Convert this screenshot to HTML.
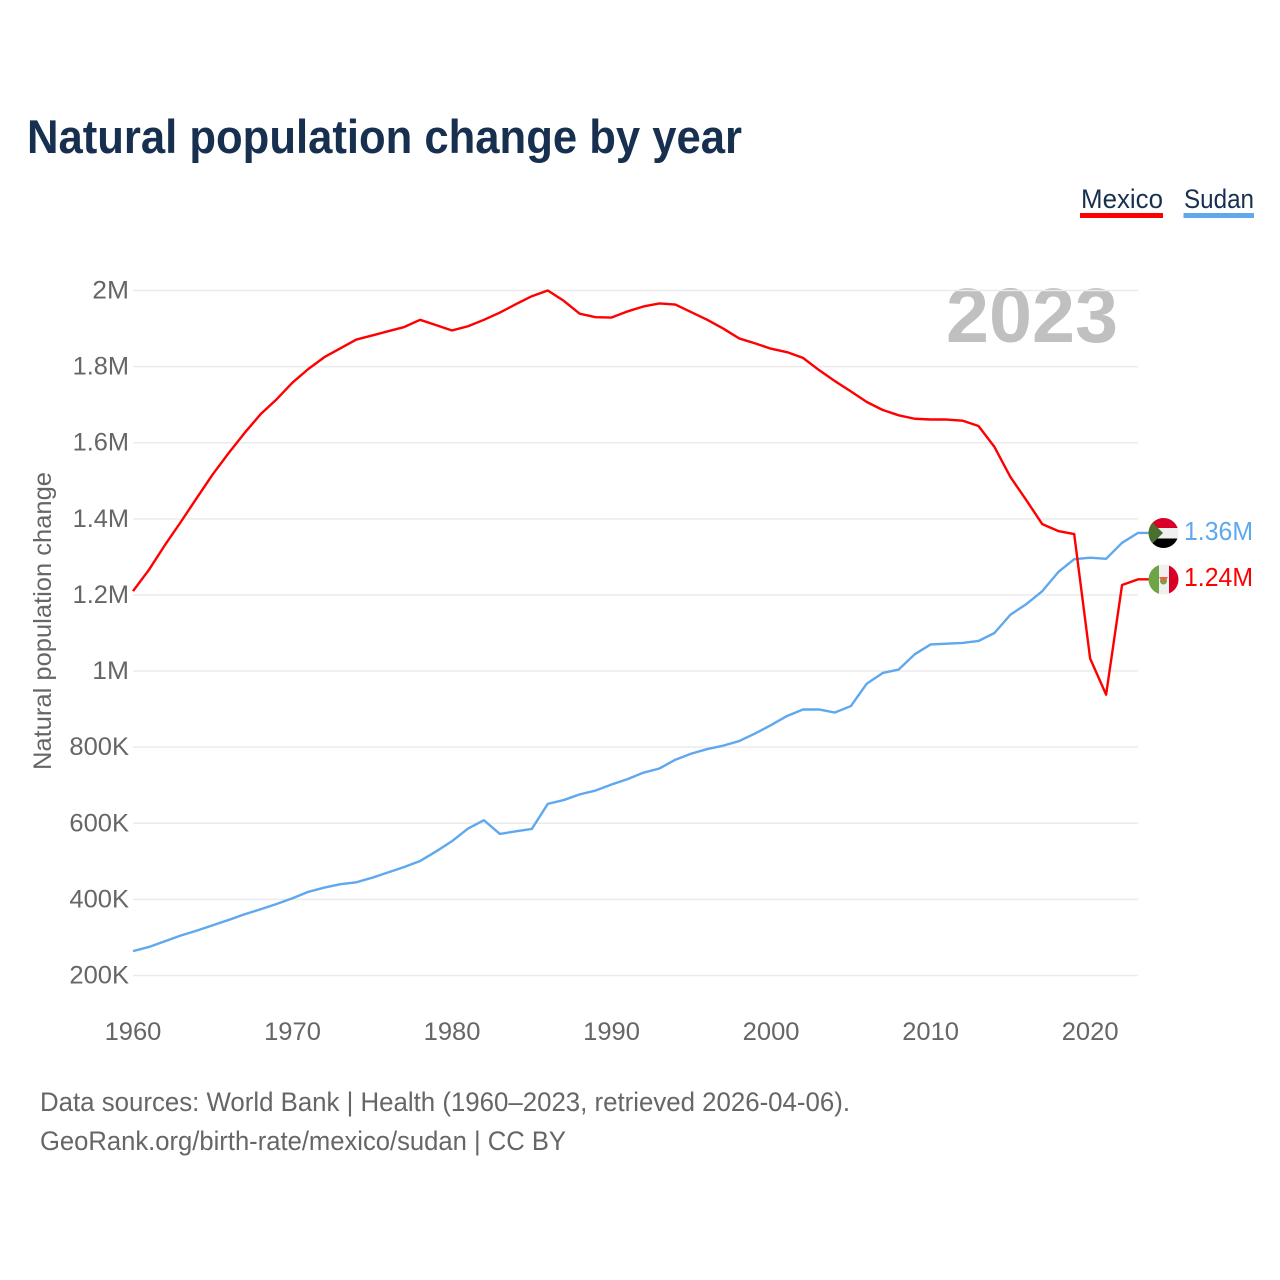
<!DOCTYPE html>
<html lang="en">
<head>
<meta charset="utf-8">
<title>Natural population change by year</title>
<style>
html,body{margin:0;padding:0;background:#fff;}
svg{display:block;}
text{font-family:"Liberation Sans",sans-serif;}
</style>
</head>
<body>
<svg id="chart" xmlns="http://www.w3.org/2000/svg" width="1280" height="1280" viewBox="0 0 1280 1280">
  <rect x="0" y="0" width="1280" height="1280" fill="#ffffff"/>
  <defs>
    <clipPath id="clip-sudan"><circle cx="1163.5" cy="533" r="15"/></clipPath>
    <clipPath id="clip-mexico"><circle cx="1163.5" cy="579.5" r="15"/></clipPath>
  </defs>
  <text x="27" y="153" font-size="47" font-weight="700" fill="#17304f" textLength="715" lengthAdjust="spacingAndGlyphs">Natural population change by year</text>

  <g>
    <text x="1081" y="208" font-size="27" fill="#17304f" textLength="82" lengthAdjust="spacingAndGlyphs">Mexico</text>
    <rect x="1080" y="213" width="83" height="5" fill="#ff0000"/>
  </g>
  <g>
    <text x="1184" y="208" font-size="27" fill="#17304f" textLength="70" lengthAdjust="spacingAndGlyphs">Sudan</text>
    <rect x="1183.500" y="213" width="70.500" height="5" fill="#5fa8ee"/>
  </g>

  <text x="946" y="342" font-size="77" font-weight="700" fill="#c0c0c0" textLength="172" lengthAdjust="spacingAndGlyphs">2023</text>

  <text transform="translate(51 621) rotate(-90)" text-anchor="middle" font-size="25" fill="#666666" textLength="298" lengthAdjust="spacingAndGlyphs">Natural population change</text>

  <g id="grid"></g>
  <g id="yticks"></g>
  <g id="xticks"></g>
  <g id="series"></g>

  <g clip-path="url(#clip-sudan)">
    <rect x="1148" y="518" width="31" height="10" fill="#d80027"/>
    <rect x="1148" y="528" width="31" height="10.500" fill="#f0f0f0"/>
    <rect x="1148" y="538.500" width="31" height="10" fill="#000000"/>
    <polygon points="1148,518 1163,533 1148,548" fill="#496e2d"/>
  </g>
  <g clip-path="url(#clip-mexico)">
    <rect x="1148" y="564" width="11" height="31" fill="#6da544"/>
    <rect x="1159" y="564" width="10" height="31" fill="#f0f0f0"/>
    <rect x="1169" y="564" width="10" height="31" fill="#d80027"/>
    <circle cx="1163.500" cy="581" r="3.500" fill="#6da544"/>
    <polygon points="1159,577 1168,577 1165.500,581 1161.500,581" fill="#e8634a"/>
  </g>
  <text x="1184" y="540" font-size="26" fill="#5fa8ee" textLength="69" lengthAdjust="spacingAndGlyphs">1.36M</text>
  <text x="1184" y="586" font-size="26" fill="#ff0000" textLength="69" lengthAdjust="spacingAndGlyphs">1.24M</text>

  <text x="40" y="1111" font-size="27" fill="#666666" textLength="810" lengthAdjust="spacingAndGlyphs">Data sources: World Bank | Health (1960–2023, retrieved 2026-04-06).</text>
  <a><text x="40" y="1150" font-size="27" fill="#666666" textLength="526" lengthAdjust="spacingAndGlyphs">GeoRank.org/birth-rate/mexico/sudan | CC BY</text></a>
</svg>
<script>
// Chart data (values in thousands)
const startYear = 1960;
const mexico = [1210,1266,1331,1392,1455,1517,1573,1626,1675,1714,1758,1794,1825,1848,1871,1882,1893,1904,1923,1909,1895,1906,1923,1942,1964,1985,2000,1973,1939,1930,1929,1945,1958,1966,1963,1943,1923,1900,1874,1861,1847,1838,1823,1791,1762,1735,1707,1686,1672,1663,1661,1661,1658,1644,1589,1510,1449,1386,1368,1360,1033,938,1226,1241];
const sudan = [264,275,290,305,318,332,346,361,374,388,403,420,431,440,445,457,471,485,501,526,553,586,608,572,579,585,651,661,676,686,702,716,733,744,767,783,795,804,816,836,858,882,899,899,891,908,967,995,1004,1044,1070,1072,1074,1079,1100,1148,1176,1210,1260,1294,1298,1295,1337,1363];
const yTickValues = [200,400,600,800,1000,1200,1400,1600,1800,2000];
const yTickLabels = ["200K","400K","600K","800K","1M","1.2M","1.4M","1.6M","1.8M","2M"];
const xTickValues = [1960,1970,1980,1990,2000,2010,2020];

function xScale(year){ return 133 + (year - 1960) * (1138 - 133) / 63; }
function yScale(v){ return 975.5 - (v - 200) * (975.5 - 290.5) / 1800; }
function labelWidth(s){
  let w = 0;
  for (const c of s) { w += c === '.' ? 5.5 : c === 'M' ? 22.5 : c === 'K' ? 17 : 14.2; }
  return w;
}
const NS = 'http://www.w3.org/2000/svg';
const grid = document.getElementById('grid');
const yticks = document.getElementById('yticks');
const xticks = document.getElementById('xticks');
const seriesGroup = document.getElementById('series');

yTickValues.forEach(function(v, i){
  const line = document.createElementNS(NS, 'line');
  
  
  line.setAttribute('x1', 133);
  line.setAttribute('x2', 1138);
  line.setAttribute('y1', yScale(v));
  line.setAttribute('y2', yScale(v));
  line.setAttribute('stroke', '#ebebeb');
  line.setAttribute('stroke-width', 1.5);
  grid.appendChild(line);

  const t = document.createElementNS(NS, 'text');
  
  
  t.setAttribute('x', 129);
  t.setAttribute('y', yScale(v) + 8);
  t.setAttribute('text-anchor', 'end');
  t.setAttribute('font-size', 25);
  t.setAttribute('fill', '#666666');
  t.setAttribute('textLength', labelWidth(yTickLabels[i]));
  t.setAttribute('lengthAdjust', 'spacingAndGlyphs');
  t.textContent = yTickLabels[i];
  yticks.appendChild(t);
});

xTickValues.forEach(function(year){
  const t = document.createElementNS(NS, 'text');
  
  
  t.setAttribute('x', xScale(year));
  t.setAttribute('y', 1040);
  t.setAttribute('text-anchor', 'middle');
  t.setAttribute('font-size', 25);
  t.setAttribute('fill', '#666666');
  t.setAttribute('textLength', labelWidth(String(year)));
  t.setAttribute('lengthAdjust', 'spacingAndGlyphs');
  t.textContent = String(year);
  xticks.appendChild(t);
});

function drawSeries(values, color, name){
  const pts = values.map(function(v, i){ return xScale(startYear + i).toFixed(2) + ',' + yScale(v).toFixed(2); });
  const last = yScale(values[values.length - 1]);
  pts.push('1150,' + last.toFixed(2));
  const line = document.createElementNS(NS, 'polyline');
  
  
  line.setAttribute('points', pts.join(' '));
  line.setAttribute('fill', 'none');
  line.setAttribute('stroke', color);
  line.setAttribute('stroke-width', 2.4);
  line.setAttribute('stroke-linejoin', 'round');
  seriesGroup.appendChild(line);
}
drawSeries(sudan, '#5fa8ee', 'series-line-sudan');
drawSeries(mexico, '#ff0000', 'series-line-mexico');
</script>
</body>
</html>
